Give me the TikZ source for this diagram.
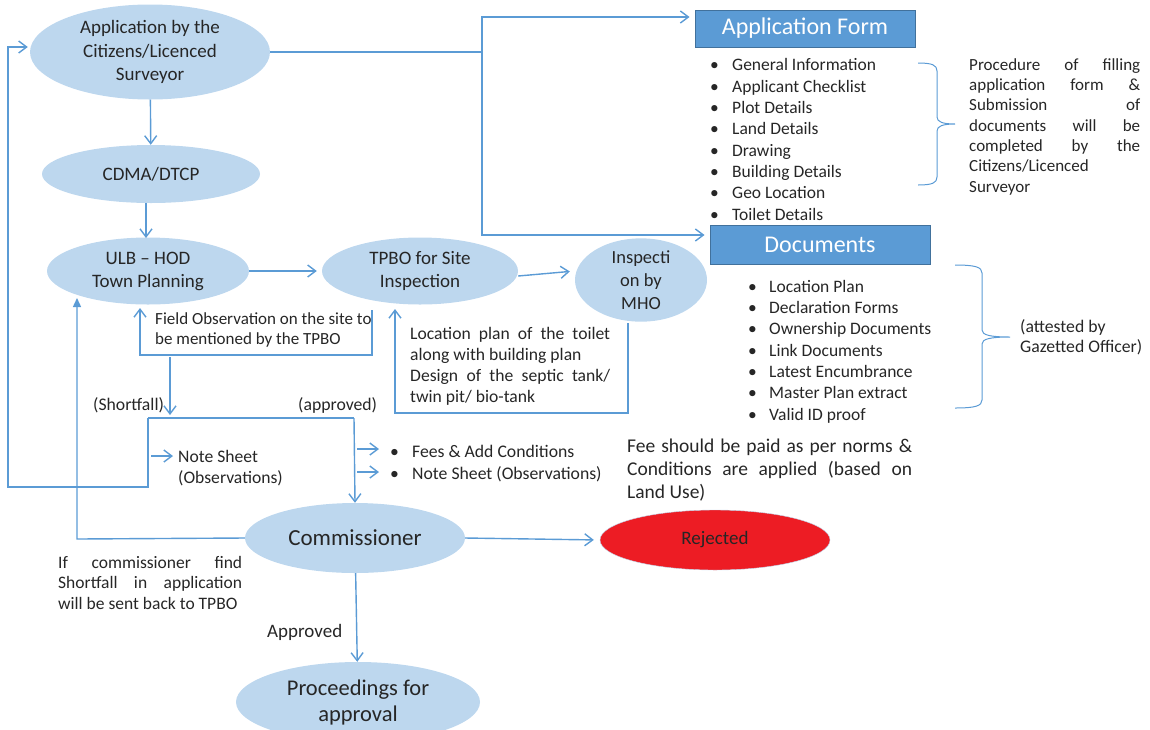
\documentclass[tikz,border=0pt]{standalone}
\usepackage{fontspec}
\setmainfont{Carlito}
\usetikzlibrary{shapes.geometric,arrows.meta}

\definecolor{stagefill}{HTML}{BDD7EE}
\definecolor{flowline}{HTML}{5B9BD5}
\definecolor{headfill}{HTML}{5B9BD5}
\definecolor{headedge}{HTML}{41719C}
\definecolor{rejectfill}{HTML}{ED1C24}
\definecolor{inktext}{HTML}{262626}

\newcommand{\fs}[2]{\fontsize{#1}{#2}\selectfont}
\newcommand{\fillline}[2]{\makebox[#1][s]{#2}}
\newcommand{\bul}[2]{\makebox[#1][l]{\textbullet}#2}

\begin{document}
\begin{tikzpicture}[x=1pt,y=-1pt,
    stage/.style={ellipse, fill=stagefill, inner sep=0pt, align=center, text=inktext},
    header/.style={draw=headedge, line width=1pt, fill=headfill, text=white, inner sep=0pt,
        minimum width=220pt, font=\fs{24}{28}},
    note/.style={inner sep=0pt, text=inktext, align=left, anchor=base west},
    link/.style={draw=flowline, line width=1.4pt},
    flow/.style={link, -{Straight Barb[length=8pt,width=12pt]}},
    back/.style={link, -{Triangle[length=9pt,width=8pt]}},
    curly/.style={draw=flowline, line width=1pt}]

    \useasboundingbox (0,0) rectangle (1150,729);

    % stages
    \node[stage, minimum width=240pt, minimum height=95pt, font=\fs{19}{23.5}] (app) at (150,52)
        {Application by the\\Citizens/Licenced\\Surveyor};
    \node[stage, minimum width=218pt, minimum height=58pt, font=\fs{19}{23}] (cdma) at (151,174) {CDMA/DTCP};
    \node[stage, minimum width=202pt, minimum height=67pt, font=\fs{19}{23}] (ulb) at (148,271)
        {ULB -- HOD\\Town Planning};
    \node[stage, minimum width=196pt, minimum height=67pt, font=\fs{19}{23}] (tpbo) at (420,271)
        {TPBO for Site\\Inspection};
    \node[stage, minimum width=132pt, minimum height=82pt, font=\fs{18.5}{23}] (mho) at (641,280)
        {Inspecti\\on by\\MHO};
    \node[stage, minimum width=220pt, minimum height=70pt, font=\fs{23}{26}] (comm) at (355,538) {Commissioner};
    \node[stage, fill=rejectfill, draw=stagefill, minimum width=230pt, minimum height=60pt,
        font=\fs{19}{22}] (rej) at (715,540) {Rejected};
    \node[stage, minimum width=244pt, minimum height=80pt, font=\fs{22.5}{26}] (proc) at (358,702)
        {Proceedings for\\approval};

    % headers
    \node[header, minimum height=37pt] (form) at (805,28.5) {Application Form};
    \node[header, minimum height=39pt] (docs) at (820,244.5) {Documents};

    % lists
    \node[note, font=\fs{17.5}{21.3}] (formlist) at (710,220)
        {\bul{22pt}{General Information}\\\bul{22pt}{Applicant Checklist}\\\bul{22pt}{Plot Details}\\
         \bul{22pt}{Land Details}\\\bul{22pt}{Drawing}\\\bul{22pt}{Building Details}\\
         \bul{22pt}{Geo Location}\\\bul{22pt}{Toilet Details}};
    \node[note, font=\fs{17.5}{21.3}] (doclist) at (748,420)
        {\bul{21pt}{Location Plan}\\\bul{21pt}{Declaration Forms}\\\bul{21pt}{Ownership Documents}\\
         \bul{21pt}{Link Documents}\\\bul{21pt}{Latest Encumbrance}\\\bul{21pt}{Master Plan extract}\\
         \bul{21pt}{Valid ID proof}};
    \node[note, font=\fs{17.7}{22}] (feelist) at (390,479)
        {\bul{22pt}{Fees \& Add Conditions}\\\bul{22pt}{Note Sheet (Observations)}};

    % braces
    \draw[curly] (918,63) .. controls (932,63) and (937,65) .. (937,71) -- (937,117)
        .. controls (937,122) and (943,124) .. (955,124)
        .. controls (943,124) and (937,126) .. (937,131) -- (937,177)
        .. controls (937,183) and (932,185) .. (918,185);
    \draw[curly] (955,265) .. controls (975,265) and (982,267) .. (982,273) -- (982,330)
        .. controls (982,335) and (990,337) .. (1010,337)
        .. controls (990,337) and (982,339) .. (982,344) -- (982,400)
        .. controls (982,406) and (975,408) .. (955,408);

    % notes
    \node[note, font=\fs{17}{20.3}] (proctext) at (969,192)
        {\fillline{171pt}{Procedure of filling}\\\fillline{171pt}{application form \&}\\
         \fillline{171pt}{Submission of}\\\fillline{171pt}{documents will be}\\
         \fillline{171pt}{completed by the}\\Citizens/Licenced\\Surveyor};
    \node[note, font=\fs{17.7}{20}] (attest) at (1020,352) {(attested by\\Gazetted Officer)};
    \node[note, font=\fs{17}{20.5}] (fieldobs) at (155,344.5)
        {Field Observation on the site to\\be mentioned by the TPBO};
    \node[note, font=\fs{17.6}{21}] (toilet) at (410,402)
        {\fillline{200pt}{Location plan of the toilet}\\along with building plan\\
         \fillline{200pt}{Design of the septic tank/}\\twin pit/ bio-tank};
    \node[note, font=\fs{17.7}{21}] (short) at (93,410) {(Shortfall)};
    \node[note, font=\fs{17.7}{21}] (appr) at (298,410) {(approved)};
    \node[note, font=\fs{17.6}{21}] (notesheet) at (178,483) {Note Sheet\\(Observations)};
    \node[note, font=\fs{19.5}{23}] (fee) at (627,498)
        {\fillline{285pt}{Fee should be paid as per norms \&}\\
         \fillline{285pt}{Conditions are applied (based on}\\Land Use)};
    \node[note, font=\fs{17.5}{20.7}] (sendback) at (58,609.5)
        {\fillline{184pt}{If commissioner find}\\\fillline{184pt}{Shortfall in application}\\
         will be sent back to TPBO};
    \node[note, font=\fs{19}{21}] (apprd) at (267,637) {Approved};

    % junction points
    \coordinate (split) at (482,52);
    \coordinate (bustop) at (482,17);
    \coordinate (busbot) at (482,235);
    \coordinate (fo1) at (372,310);
    \coordinate (fo2) at (140,355);
    \coordinate (fo3) at (140,308);
    \coordinate (mh1) at (628,323);
    \coordinate (mh2) at (395,413);
    \coordinate (mh3) at (395,309);
    \coordinate (sf1) at (170,357);
    \coordinate (sf2) at (170,415);
    \coordinate (ns1) at (148,418);
    \coordinate (ns2) at (354,418);
    \coordinate (ns3) at (148,487);
    \coordinate (ns4) at (8,47);
    \coordinate (ns5) at (151,456);
    \coordinate (ap1) at (357,449);
    \coordinate (ap2) at (357,472);
    \coordinate (cb1) at (77,539);
    \coordinate (cb2) at (77,298);

    % main flow
    \draw[flow] (app) -- (cdma);
    \draw[flow] (cdma.south -| 146,0) -- (146,238);
    \draw[flow, shorten >=5pt] (ulb.east) -- (tpbo.west);
    \draw[flow, shorten >=5pt] ([yshift=-5pt]tpbo.east) -- ([yshift=9pt]mho.west);
    \draw[link] (app.east) -- (split);
    \draw[flow, shorten >=5pt] (busbot) -- (bustop) -- (form.west |- bustop);
    \draw[flow, shorten >=5pt] (bustop) -- (busbot) -- (docs.west |- busbot);

    % returns from site
    \draw[flow] (fo1) |- (fo2) -- (fo3);
    \draw[flow] (mh1) |- (mh2) -- (mh3);
    \draw[flow] (sf1) -- (sf2);

    % note sheet split
    \draw[link] (ns1) -- (ns2);
    \draw[flow, shorten >=2pt] (ns1) -- (ns3) -| (ns4) -- (app.west |- ns4);
    \draw[flow, shorten >=5pt] (ns5) -- (notesheet.west |- ns5);
    \draw[flow] (ns2) -- (comm.north);
    \draw[flow, shorten >=11pt] (ap1) -- (feelist.west |- ap1);
    \draw[flow, shorten >=11pt] (ap2) -- (feelist.west |- ap2);

    % commissioner
    \draw[flow, shorten >=6pt] (comm.east) -- (rej.west);
    \draw[back] (comm.west) -- (cb1) -- (cb2);
    \draw[flow] (comm) -- (proc);
\end{tikzpicture}
\end{document}
